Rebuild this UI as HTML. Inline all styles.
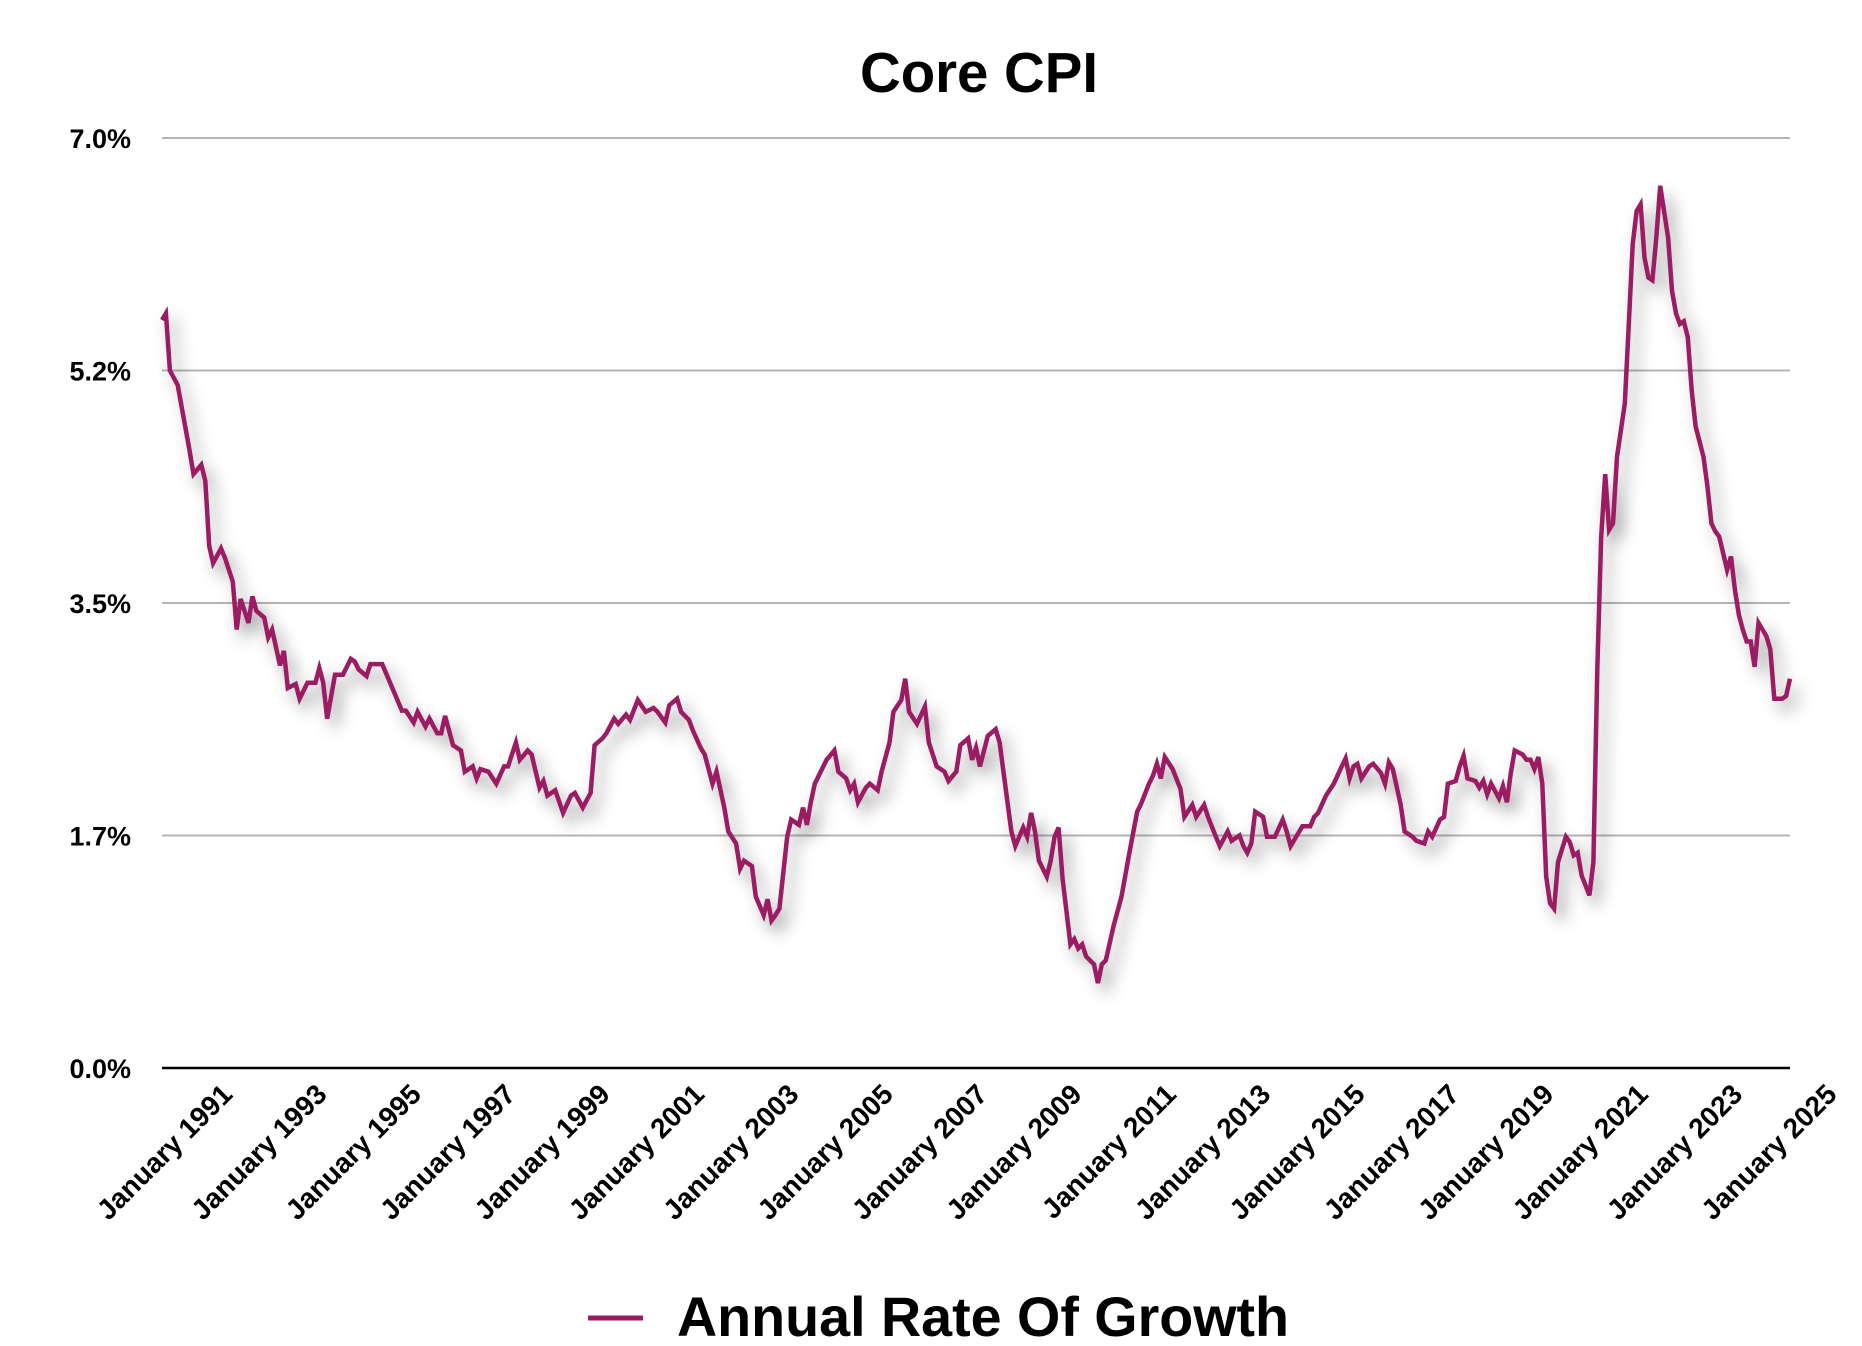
<!DOCTYPE html>
<html><head><meta charset="utf-8"><title>Core CPI</title>
<style>
html,body{margin:0;padding:0;background:#fff;}
svg{display:block;font-family:"Liberation Sans",Arial,sans-serif;}
</style></head>
<body>
<svg id="chart" width="1862" height="1346" viewBox="0 0 1862 1346" xmlns="http://www.w3.org/2000/svg">
<defs>
<filter id="shadow" x="-10%" y="-10%" width="130%" height="130%">
<feDropShadow dx="7" dy="9" stdDeviation="8" flood-color="#000" flood-opacity="0.4"/>
</filter>
</defs>
<text x="979" y="92" text-anchor="middle" font-size="57" font-weight="bold" fill="#000" textLength="238" lengthAdjust="spacingAndGlyphs">Core CPI</text>
<g id="grid"></g>
<g id="yaxis"></g>
<g id="xaxis"></g>
<g id="series"></g>
<g>
<line x1="588" y1="1318" x2="643" y2="1318" stroke="#9b1b62" stroke-width="5"/>
<text x="677" y="1336" font-size="56" font-weight="bold" textLength="612" lengthAdjust="spacingAndGlyphs" fill="#000">Annual Rate Of Growth</text>
</g>
</svg>
<script>
// months since January 1991
const months = [0,1,2,4,7,8,10,11,12,13,15,16,18,19,20,22,23,24,26,27,28,30,31,32,34,35,37,39,40,41,42,44,46,48,49,50,52,53,56,59,61,62,64,65,67,68,70,71,72,74,76,77,79,80,81,83,85,87,88,90,91,93,94,96,97,98,100,102,104,105,107,109,110,112,113,115,116,118,119,121,123,125,126,128,129,131,132,134,135,137,138,140,141,143,144,146,147,148,150,151,153,154,155,156,157,159,160,162,163,164,165,166,169,171,172,174,175,176,177,179,180,182,183,185,186,188,189,190,192,194,195,197,199,200,202,203,205,206,207,208,210,212,213,215,216,217,219,220,221,222,223,225,226,227,228,229,231,232,233,234,235,237,238,239,240,242,244,246,248,249,251,252,253,254,255,257,259,260,262,263,265,266,268,269,271,272,274,275,276,277,278,280,281,283,285,286,287,288,290,292,293,294,296,298,300,301,302,303,304,305,307,308,310,311,312,313,315,316,318,319,321,322,323,325,326,327,329,330,331,332,334,335,336,337,338,340,341,342,343,344,346,347,348,349,350,351,352,353,354,355,357,358,359,360,361,363,364,365,366,367,368,369,370,372,373,374,375,376,377,378,379,380,381,383,384,385,386,387,388,389,390,392,393,394,395,396,398,399,400,401,402,403,404,405,406,407,408,409,410,411,412,413,414];
const values = [5.63,5.68,5.25,5.14,4.65,4.47,4.54,4.42,3.93,3.80,3.91,3.84,3.66,3.30,3.53,3.35,3.55,3.44,3.39,3.24,3.30,3.03,3.14,2.86,2.89,2.78,2.90,2.90,3.01,2.90,2.63,2.96,2.96,3.08,3.06,3.00,2.95,3.04,3.04,2.83,2.69,2.69,2.60,2.68,2.57,2.63,2.52,2.52,2.65,2.43,2.39,2.23,2.27,2.18,2.25,2.23,2.14,2.27,2.27,2.45,2.32,2.39,2.36,2.11,2.16,2.05,2.09,1.92,2.05,2.07,1.96,2.07,2.43,2.48,2.52,2.63,2.59,2.66,2.62,2.77,2.68,2.71,2.68,2.60,2.73,2.78,2.68,2.62,2.54,2.41,2.36,2.14,2.23,1.96,1.78,1.69,1.50,1.56,1.52,1.29,1.15,1.27,1.11,1.15,1.20,1.74,1.87,1.83,1.96,1.83,2.00,2.14,2.32,2.39,2.23,2.18,2.09,2.14,2.00,2.11,2.14,2.09,2.23,2.45,2.68,2.77,2.93,2.68,2.59,2.72,2.45,2.27,2.23,2.16,2.23,2.43,2.48,2.32,2.41,2.27,2.50,2.55,2.45,2.00,1.78,1.67,1.81,1.74,1.92,1.78,1.56,1.44,1.56,1.74,1.81,1.43,0.93,0.97,0.90,0.93,0.84,0.78,0.64,0.78,0.81,1.07,1.29,1.62,1.93,1.99,2.14,2.20,2.29,2.18,2.34,2.25,2.10,1.89,1.98,1.89,1.98,1.89,1.74,1.67,1.78,1.71,1.75,1.67,1.62,1.69,1.93,1.89,1.74,1.74,1.87,1.78,1.67,1.72,1.82,1.82,1.89,1.92,2.05,2.14,2.27,2.33,2.18,2.27,2.29,2.18,2.27,2.29,2.22,2.14,2.30,2.25,1.98,1.78,1.74,1.71,1.69,1.78,1.74,1.87,1.89,2.14,2.16,2.27,2.35,2.18,2.16,2.11,2.16,2.06,2.14,2.03,2.12,2.00,2.22,2.39,2.36,2.32,2.32,2.25,2.34,2.14,1.44,1.24,1.20,1.55,1.74,1.70,1.60,1.62,1.45,1.30,1.55,3.00,4.00,4.47,4.05,4.10,4.60,5.00,5.60,6.20,6.45,6.50,6.10,5.95,5.93,6.25,6.64,6.25,5.85,5.68,5.60,5.62,5.50,5.10,4.83,4.60,4.38,4.10,4.04,4.00,3.75,3.85,3.60,3.41,3.30,3.21,3.21,3.02,3.35,3.30,3.25,3.15,2.78,2.78,2.78,2.80,2.93];
const yTicks = [0, 1.75, 3.5, 5.25, 7];
const yTickLabels = ["0.0%", "1.7%", "3.5%", "5.2%", "7.0%"];
const xLabelYears = [1991,1993,1995,1997,1999,2001,2003,2005,2007,2009,2011,2013,2015,2017,2019,2021,2023,2025];

const NS = "http://www.w3.org/2000/svg";
const X0 = 162, X1 = 1790, Y0 = 1068, Y7 = 138, MAXM = 414;
function xScale(m){ return X0 + (X1 - X0) * m / MAXM; }
function yScale(v){ return Y0 - (Y0 - Y7) * v / 7; }

const grid = document.getElementById('grid');
const yaxis = document.getElementById('yaxis');
yTicks.forEach((t, i) => {
  const ln = document.createElementNS(NS, 'line');
  ln.setAttribute('x1', X0); ln.setAttribute('x2', X1);
  ln.setAttribute('y1', yScale(t)); ln.setAttribute('y2', yScale(t));
  ln.setAttribute('stroke', t === 0 ? '#000' : '#b4b4b4');
  ln.setAttribute('stroke-width', t === 0 ? 2.5 : 2);
  
  
  grid.appendChild(ln);
  const tx = document.createElementNS(NS, 'text');
  tx.setAttribute('x', 131); tx.setAttribute('y', yScale(t) + 10);
  tx.setAttribute('text-anchor', 'end');
  tx.setAttribute('font-size', '27'); tx.setAttribute('font-weight', 'bold');
  tx.textContent = yTickLabels[i];
  
  
  yaxis.appendChild(tx);
});

const xaxis = document.getElementById('xaxis');
xLabelYears.forEach(yr => {
  const m = (yr - 1991) * 12;
  const ax = xScale(m) + 72, ay = 1096;
  const tx = document.createElementNS(NS, 'text');
  tx.setAttribute('x', ax); tx.setAttribute('y', ay);
  tx.setAttribute('text-anchor', 'end');
  tx.setAttribute('font-size', '28'); tx.setAttribute('font-weight', 'bold');
  tx.setAttribute('transform', 'rotate(-45 ' + ax + ' ' + ay + ')');
  tx.textContent = 'January ' + yr;
  
  
  xaxis.appendChild(tx);
});

const series = document.getElementById('series');
const pts = months.map((m, i) => xScale(m).toFixed(1) + ',' + yScale(values[i]).toFixed(1)).join(' ');
const pl = document.createElementNS(NS, 'polyline');
pl.setAttribute('points', pts);
pl.setAttribute('fill', 'none');
pl.setAttribute('stroke', '#9b1b62');
pl.setAttribute('stroke-width', '4.5');
pl.setAttribute('stroke-linejoin', 'miter');
pl.setAttribute('filter', 'url(#shadow)');


series.appendChild(pl);
</script>
</body></html>
